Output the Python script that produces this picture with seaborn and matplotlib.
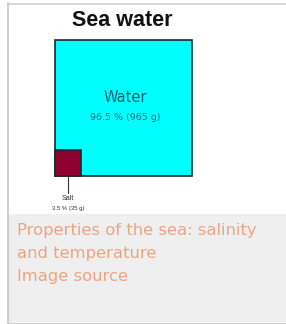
import numpy as np
import matplotlib
matplotlib.use("Agg")
import matplotlib.pyplot as plt
import seaborn as sns
from matplotlib.patches import Rectangle

sns.set_theme(style="white")
plt.rcParams['font.family'] = ['Liberation Sans', 'DejaVu Sans']

# Data
components = ["Water", "Salt"]
percent = [96.5, 3.5]
grams = [965, 35]
colors = ["#00ffff", "#8f0030"]
title = "Sea water"
caption_lines = ["Properties of the sea: salinity", "and temperature", "Image source"]

W, H = 286, 324
fig = plt.figure(figsize=(W / 100, H / 100), dpi=100)
fig.patch.set_facecolor("white")

def fx(px):
    return px / W

def fy(py):
    return 1 - py / H

# panels
fig.patches.append(Rectangle((fx(8), fy(214)), fx(286) - fx(8), fy(4) - fy(214),
                             transform=fig.transFigure, facecolor="white", edgecolor="none", zorder=-5))
fig.patches.append(Rectangle((fx(8), fy(322)), fx(286) - fx(8), fy(214) - fy(322),
                             transform=fig.transFigure, facecolor="#efefef", edgecolor="none", zorder=-5))
# borders
fig.add_artist(plt.Line2D([fx(7.5), fx(7.5)], [fy(3), fy(323)], transform=fig.transFigure,
                          color="#c4c4c4", lw=1.2, zorder=-4))
fig.add_artist(plt.Line2D([fx(7.5), fx(286)], [fy(3.5), fy(3.5)], transform=fig.transFigure,
                          color="#cfcfcf", lw=1.2, zorder=-4))
fig.add_artist(plt.Line2D([fx(7.5), fx(286)], [fy(322.5), fy(322.5)], transform=fig.transFigure,
                          color="#cfcfcf", lw=1.0, zorder=-4))

# axes covering the water square
left, right, top, bottom = 55, 192, 40, 176
ax = fig.add_axes([fx(left), fy(bottom), fx(right) - fx(left), fy(top) - fy(bottom)])
ax.set_zorder(2)
ax.set_facecolor("none")
sides = np.sqrt(np.array(grams, dtype=float))
ax.set_xlim(0, sides[0])
ax.set_ylim(0, sides[0])
ax.axis("off")

for comp, s, c in zip(components, sides, colors):
    ax.bar(0, s, width=s, bottom=0, align="edge", color=c, edgecolor="#1a2a30",
           linewidth=1.2, clip_on=False)

# labels
ax.text(sides[0] * 0.51, sides[0] * 0.58, components[0], ha="center", va="center",
        fontsize=10.5, color="#1a5c6c", family=["DejaVu Sans"])
ax.text(sides[0] * 0.51, sides[0] * 0.43, f"{percent[0]} % ({grams[0]} g)", ha="center", va="center",
        fontsize=6.8, color="#2a6a7a", family=["DejaVu Sans"])

sx = sides[1] / 2
ax.plot([sx, sx], [0, -sides[0] * 0.125], color="#333333", lw=0.8, clip_on=False)
ax.text(sx, -sides[0] * 0.165, components[1], ha="center", va="center", fontsize=5.2,
        color="#333333", clip_on=False)
ax.text(sx, -sides[0] * 0.24, f"{percent[1]} % ({grams[1]} g)", ha="center", va="center",
        fontsize=4.3, color="#333333", clip_on=False)

# title
fig.text(fx(122.5), fy(20.5), title, ha="center", va="center", fontsize=15.5,
         fontweight="bold", color="#111111")

# caption
for i, line in enumerate(caption_lines):
    fig.text(fx(17), fy(230 + 23.5 * i), line, ha="left", va="center", fontsize=11.8,
             color="#eba482", family=["DejaVu Sans"])

fig.savefig("out.png", dpi=100, facecolor=fig.get_facecolor())
